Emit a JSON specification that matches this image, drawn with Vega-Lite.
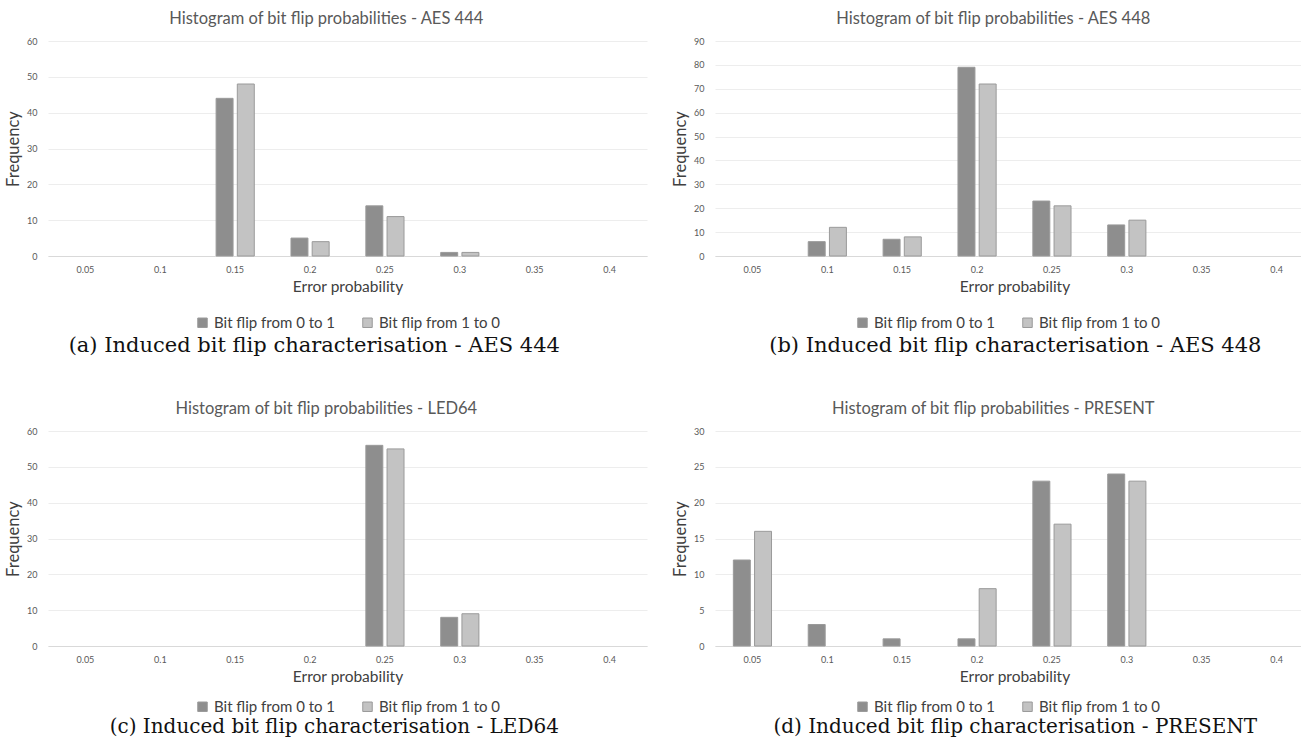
{
  "$schema": "https://vega.github.io/schema/vega-lite/v6.json",
  "padding": {"left": 5, "top": 10, "right": 0, "bottom": 0},
  "background": "white",
  "config": {
    "font": "Lato",
    "view": {"stroke": null},
    "axis": {"labelColor": "#595959", "titleColor": "#404040", "labelFontSize": 9, "titleFontSize": 16, "titleFontWeight": "normal", "gridColor": "#ededed", "domain": false, "ticks": false},
    "axisX": {"grid": false, "labelAngle": 0, "labelPadding": 9, "titlePadding": 5, "domain": true, "domainColor": "#d9d9d9", "titleFontSize": 15.5},
    "axisY": {"labelPadding": 11, "titlePadding": 5, "titleFontSize": 16.5},
    "legend": {"orient": "bottom", "direction": "horizontal", "title": null, "symbolType": "square", "symbolSize": 90, "symbolStrokeWidth": 0, "labelFontSize": 15, "labelColor": "#404040", "columnPadding": 24, "labelOffset": 4, "offset": 20, "layout": {"bottom": {"anchor": "middle"}}},
    "title": {"fontSize": 16.5, "fontWeight": "normal", "color": "#595959", "offset": 10, "frame": "bounds"},
    "bar": {"stroke": "#9a9a9a", "strokeWidth": 1}
  },
  "datasets": {
    "aes444": [
      {"p": "0.15", "s": "Bit flip from 0 to 1", "f": 44},
      {"p": "0.15", "s": "Bit flip from 1 to 0", "f": 48},
      {"p": "0.2", "s": "Bit flip from 0 to 1", "f": 5},
      {"p": "0.2", "s": "Bit flip from 1 to 0", "f": 4},
      {"p": "0.25", "s": "Bit flip from 0 to 1", "f": 14},
      {"p": "0.25", "s": "Bit flip from 1 to 0", "f": 11},
      {"p": "0.3", "s": "Bit flip from 0 to 1", "f": 1},
      {"p": "0.3", "s": "Bit flip from 1 to 0", "f": 1}
    ],
    "aes448": [
      {"p": "0.1", "s": "Bit flip from 0 to 1", "f": 6},
      {"p": "0.1", "s": "Bit flip from 1 to 0", "f": 12},
      {"p": "0.15", "s": "Bit flip from 0 to 1", "f": 7},
      {"p": "0.15", "s": "Bit flip from 1 to 0", "f": 8},
      {"p": "0.2", "s": "Bit flip from 0 to 1", "f": 79},
      {"p": "0.2", "s": "Bit flip from 1 to 0", "f": 72},
      {"p": "0.25", "s": "Bit flip from 0 to 1", "f": 23},
      {"p": "0.25", "s": "Bit flip from 1 to 0", "f": 21},
      {"p": "0.3", "s": "Bit flip from 0 to 1", "f": 13},
      {"p": "0.3", "s": "Bit flip from 1 to 0", "f": 15}
    ],
    "led64": [
      {"p": "0.25", "s": "Bit flip from 0 to 1", "f": 56},
      {"p": "0.25", "s": "Bit flip from 1 to 0", "f": 55},
      {"p": "0.3", "s": "Bit flip from 0 to 1", "f": 8},
      {"p": "0.3", "s": "Bit flip from 1 to 0", "f": 9}
    ],
    "present": [
      {"p": "0.05", "s": "Bit flip from 0 to 1", "f": 12},
      {"p": "0.05", "s": "Bit flip from 1 to 0", "f": 16},
      {"p": "0.1", "s": "Bit flip from 0 to 1", "f": 3},
      {"p": "0.15", "s": "Bit flip from 0 to 1", "f": 1},
      {"p": "0.2", "s": "Bit flip from 0 to 1", "f": 1},
      {"p": "0.2", "s": "Bit flip from 1 to 0", "f": 8},
      {"p": "0.25", "s": "Bit flip from 0 to 1", "f": 23},
      {"p": "0.25", "s": "Bit flip from 1 to 0", "f": 17},
      {"p": "0.3", "s": "Bit flip from 0 to 1", "f": 24},
      {"p": "0.3", "s": "Bit flip from 1 to 0", "f": 23}
    ]
  },
  "resolve": {"scale": {"color": "independent"}, "legend": {"color": "independent"}},
  "spacing": 44,
  "vconcat": [
    {
      "hconcat": [
        {
          "title": {"text": "(a) Induced bit flip characterisation - AES 444", "orient": "bottom", "anchor": "middle", "font": "DejaVu Serif", "fontSize": 21, "color": "#111111", "offset": 4, "dx": -12},
          "resolve": {"scale": {"color": "independent"}, "legend": {"color": "independent"}},
          "vconcat": [
            {
              "title": {"text": "Histogram of bit flip probabilities - AES 444"},
              "data": {"name": "aes444"},
              "width": 599,
              "height": 215,
              "mark": {"type": "bar"},
              "encoding": {
                "x": {"field": "p", "type": "ordinal", "scale": {"domain": ["0.05", "0.1", "0.15", "0.2", "0.25", "0.3", "0.35", "0.4"], "paddingInner": 0.49, "paddingOuter": 0.245}, "axis": {"title": "Error probability"}},
                "xOffset": {"field": "s", "type": "nominal", "scale": {"domain": ["Bit flip from 0 to 1", "Bit flip from 1 to 0"], "paddingInner": 0.2}},
                "y": {"field": "f", "type": "quantitative", "scale": {"domain": [0, 60]}, "axis": {"title": "Frequency", "values": [0, 10, 20, 30, 40, 50, 60]}},
                "color": {"field": "s", "type": "nominal", "scale": {"domain": ["Bit flip from 0 to 1", "Bit flip from 1 to 0"], "range": ["#8e8e8e", "#c3c3c3"]}}
              }
            }
          ]
        },
        {
          "title": {"text": "(b) Induced bit flip characterisation - AES 448", "orient": "bottom", "anchor": "middle", "font": "DejaVu Serif", "fontSize": 21, "color": "#111111", "offset": 4, "dx": 22},
          "resolve": {"scale": {"color": "independent"}, "legend": {"color": "independent"}},
          "vconcat": [
            {
              "title": {"text": "Histogram of bit flip probabilities - AES 448"},
              "data": {"name": "aes448"},
              "width": 586,
              "height": 215,
              "mark": {"type": "bar"},
              "encoding": {
                "x": {"field": "p", "type": "ordinal", "scale": {"domain": ["0.05", "0.1", "0.15", "0.2", "0.25", "0.3", "0.35", "0.4"], "paddingInner": 0.49, "paddingOuter": 0.245, "range": [0, 599]}, "axis": {"title": "Error probability"}},
                "xOffset": {"field": "s", "type": "nominal", "scale": {"domain": ["Bit flip from 0 to 1", "Bit flip from 1 to 0"], "paddingInner": 0.2}},
                "y": {"field": "f", "type": "quantitative", "scale": {"domain": [0, 90]}, "axis": {"title": "Frequency", "values": [0, 10, 20, 30, 40, 50, 60, 70, 80, 90]}},
                "color": {"field": "s", "type": "nominal", "scale": {"domain": ["Bit flip from 0 to 1", "Bit flip from 1 to 0"], "range": ["#8e8e8e", "#c3c3c3"]}}
              }
            }
          ]
        }
      ],
      "spacing": 25,
      "resolve": {"scale": {"color": "independent"}, "legend": {"color": "independent"}}
    },
    {
      "hconcat": [
        {
          "title": {"text": "(c) Induced bit flip characterisation - LED64", "orient": "bottom", "anchor": "middle", "font": "DejaVu Serif", "fontSize": 20, "color": "#111111", "offset": 2, "dx": 8},
          "resolve": {"scale": {"color": "independent"}, "legend": {"color": "independent"}},
          "vconcat": [
            {
              "title": {"text": "Histogram of bit flip probabilities - LED64"},
              "data": {"name": "led64"},
              "width": 599,
              "height": 215,
              "mark": {"type": "bar"},
              "encoding": {
                "x": {"field": "p", "type": "ordinal", "scale": {"domain": ["0.05", "0.1", "0.15", "0.2", "0.25", "0.3", "0.35", "0.4"], "paddingInner": 0.49, "paddingOuter": 0.245}, "axis": {"title": "Error probability"}},
                "xOffset": {"field": "s", "type": "nominal", "scale": {"domain": ["Bit flip from 0 to 1", "Bit flip from 1 to 0"], "paddingInner": 0.2}},
                "y": {"field": "f", "type": "quantitative", "scale": {"domain": [0, 60]}, "axis": {"title": "Frequency", "values": [0, 10, 20, 30, 40, 50, 60]}},
                "color": {"field": "s", "type": "nominal", "scale": {"domain": ["Bit flip from 0 to 1", "Bit flip from 1 to 0"], "range": ["#8e8e8e", "#c3c3c3"]}, "legend": {"offset": 14}}
              }
            }
          ]
        },
        {
          "title": {"text": "(d) Induced bit flip characterisation - PRESENT", "orient": "bottom", "anchor": "middle", "font": "DejaVu Serif", "fontSize": 20, "color": "#111111", "offset": 2, "dx": 22},
          "resolve": {"scale": {"color": "independent"}, "legend": {"color": "independent"}},
          "vconcat": [
            {
              "title": {"text": "Histogram of bit flip probabilities - PRESENT"},
              "data": {"name": "present"},
              "width": 586,
              "height": 215,
              "mark": {"type": "bar"},
              "encoding": {
                "x": {"field": "p", "type": "ordinal", "scale": {"domain": ["0.05", "0.1", "0.15", "0.2", "0.25", "0.3", "0.35", "0.4"], "paddingInner": 0.49, "paddingOuter": 0.245, "range": [0, 599]}, "axis": {"title": "Error probability"}},
                "xOffset": {"field": "s", "type": "nominal", "scale": {"domain": ["Bit flip from 0 to 1", "Bit flip from 1 to 0"], "paddingInner": 0.2}},
                "y": {"field": "f", "type": "quantitative", "scale": {"domain": [0, 30]}, "axis": {"title": "Frequency", "values": [0, 5, 10, 15, 20, 25, 30]}},
                "color": {"field": "s", "type": "nominal", "scale": {"domain": ["Bit flip from 0 to 1", "Bit flip from 1 to 0"], "range": ["#8e8e8e", "#c3c3c3"]}, "legend": {"offset": 14}}
              }
            }
          ]
        }
      ],
      "spacing": 25,
      "resolve": {"scale": {"color": "independent"}, "legend": {"color": "independent"}}
    }
  ]
}
